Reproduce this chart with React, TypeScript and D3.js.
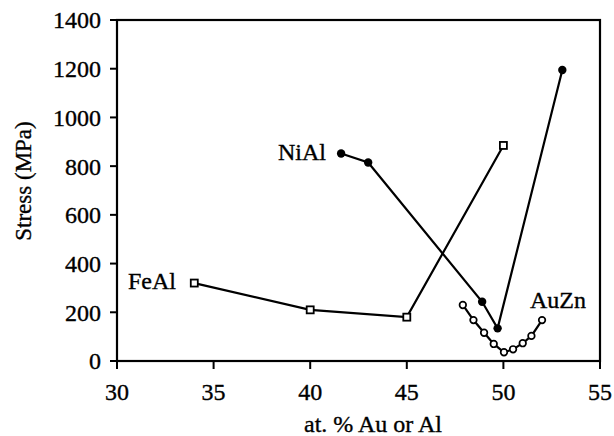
import React from "react";
import * as d3 from "d3";

const xTicks = [30, 35, 40, 45, 50, 55];
const yTicks = [0, 200, 400, 600, 800, 1000, 1200, 1400];

const feAlX = [34, 40, 45, 50];
const feAlY = [320, 210, 180, 885];

const niAlX = [41.6, 43.0, 48.9, 49.7, 53.05];
const niAlY = [852, 815, 243, 134, 1195];

const auZnX = [47.9, 48.45, 49.0, 49.5, 50.03, 50.5, 51.0, 51.45, 52.0];
const auZnY = [230, 168, 116, 70, 36, 48, 73, 103, 168];

const W = 614, H = 436;
const L = 117, R = 600, T = 20, B = 361;
const FONT = "'Liberation Serif', 'Times New Roman', serif";

export default function App() {
  const x = d3.scaleLinear().domain([30, 55]).range([L, R]);
  const y = d3.scaleLinear().domain([0, 1400]).range([B, T]);
  const line = d3.line<[number, number]>().x(d => x(d[0])).y(d => y(d[1]));
  const fe = feAlX.map((v, i) => [v, feAlY[i]] as [number, number]);
  const ni = niAlX.map((v, i) => [v, niAlY[i]] as [number, number]);
  const au = auZnX.map((v, i) => [v, auZnY[i]] as [number, number]);
  const ts = { stroke: "#000", strokeWidth: 0.35 };

  return (
    <svg width={W} height={H} style={{ position: "absolute", left: 0, top: 0, background: "#fff" }}
      fontFamily={FONT}>
      <rect x={L} y={T} width={R - L} height={B - T} fill="none" stroke="#000" strokeWidth={2.2} />
      {yTicks.map(t => (
        <g key={"y" + t}>
          <line x1={L - 7} x2={L} y1={y(t)} y2={y(t)} stroke="#000" strokeWidth={2} />
          <text x={L - 16} y={y(t)} dy="0.35em" textAnchor="end" fontSize={24} {...ts}>{t}</text>
        </g>
      ))}
      {xTicks.map(t => (
        <g key={"x" + t}>
          <line x1={x(t)} x2={x(t)} y1={B} y2={B + 8} stroke="#000" strokeWidth={2} />
          <text x={x(t)} y={B + 39} textAnchor="middle" fontSize={24} {...ts}>{t}</text>
        </g>
      ))}
      <text x={373} y={432} textAnchor="middle" fontSize={24} {...ts}>at. % Au or Al</text>
      <text transform={`translate(31,181) rotate(-90)`} textAnchor="middle" fontSize={23} {...ts}>Stress (MPa)</text>

      <path d={line(fe) || ""} fill="none" stroke="#000" strokeWidth={2.2} />
      <path d={line(ni) || ""} fill="none" stroke="#000" strokeWidth={2.2} />
      <path d={line(au) || ""} fill="none" stroke="#000" strokeWidth={2.2} />

      {fe.map((d, i) => (
        <rect key={"f" + i} x={x(d[0]) - 3.5} y={y(d[1]) - 3.5} width={7} height={7} fill="#fff" stroke="#000" strokeWidth={1.8} />
      ))}
      {ni.map((d, i) => (
        <circle key={"n" + i} cx={x(d[0])} cy={y(d[1])} r={4.2} fill="#000" />
      ))}
      {au.map((d, i) => (
        <circle key={"a" + i} cx={x(d[0])} cy={y(d[1])} r={3.3} fill="#fff" stroke="#000" strokeWidth={1.7} />
      ))}

      <text x={128} y={289} fontSize={24} {...ts}>FeAl</text>
      <text x={278} y={160} fontSize={24} {...ts}>NiAl</text>
      <text x={530} y={308} fontSize={24} {...ts}>AuZn</text>
    </svg>
  );
}
